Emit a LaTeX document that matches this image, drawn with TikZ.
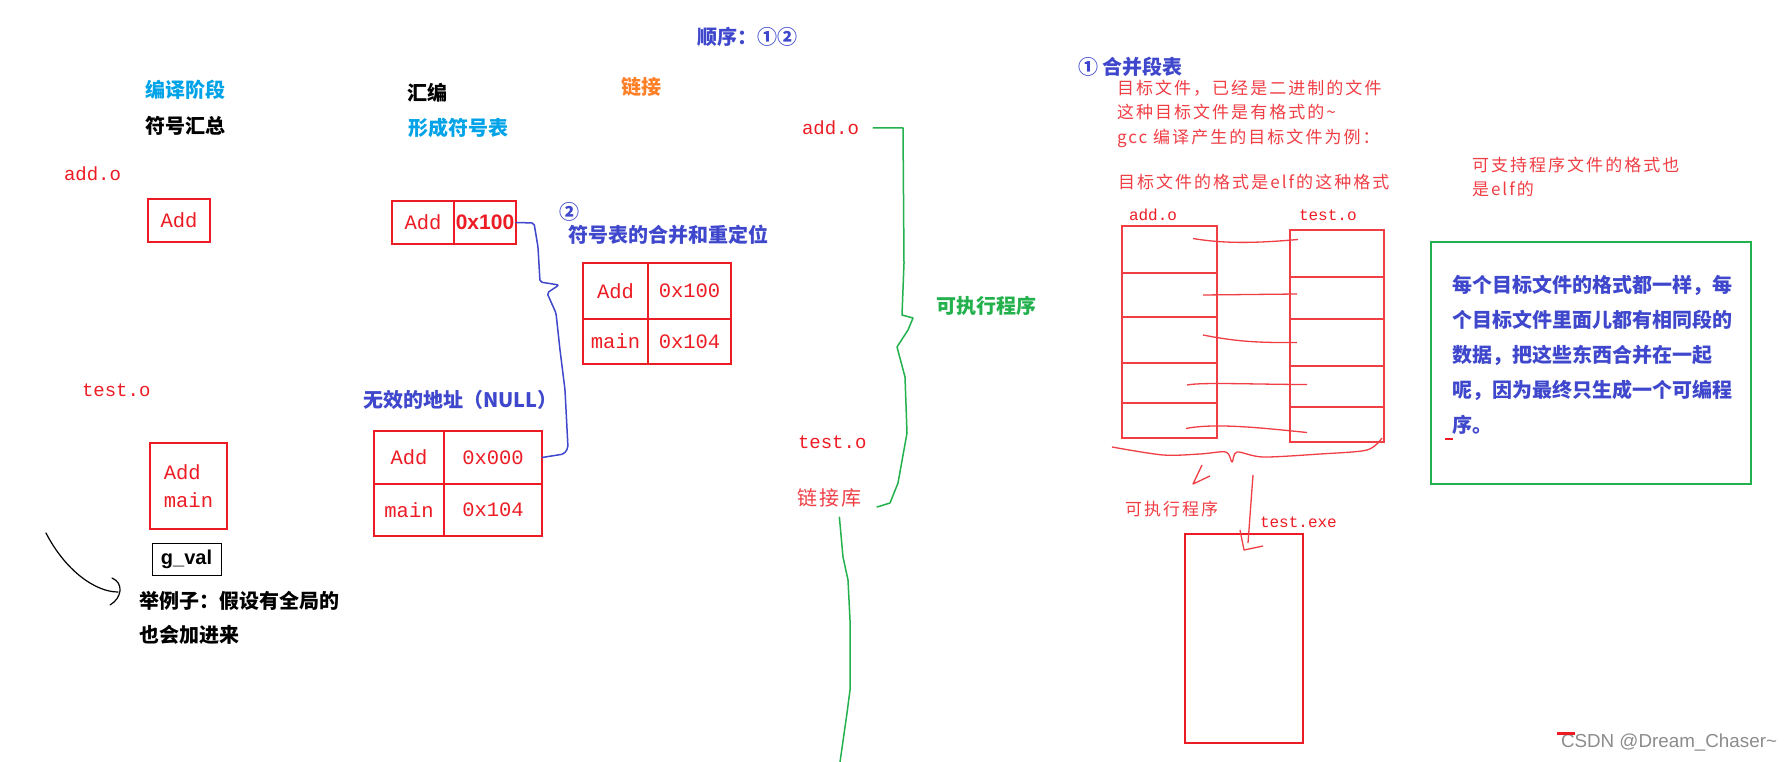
\documentclass[tikz,border=0pt]{standalone}
\usepackage{fontspec}
\setmainfont{Noto Sans CJK SC}
\newfontfamily\monofont{Liberation Mono}
\newfontfamily\arialfont{Liberation Sans}
\newfontfamily\notefont[LetterSpace=12]{Noto Sans CJK SC}
\definecolor{pred}{RGB}{237,28,36}
\definecolor{pblue}{RGB}{63,72,204}
\definecolor{pcyan}{RGB}{0,162,232}
\definecolor{pgreen}{RGB}{34,177,76}
\definecolor{porange}{RGB}{255,127,39}
\begin{document}
\begin{tikzpicture}[x=1pt,y=-1pt,every node/.style={inner sep=0pt,outer sep=0pt},
  title/.style={anchor=west,font=\fontsize{20}{24}\selectfont\bfseries},
  fname/.style={anchor=west,text=pred,font=\monofont\fontsize{19}{22}\selectfont},
  note/.style={anchor=west,align=left,text=pred!85,font=\notefont\fontsize{17}{24.5}\selectfont},
  cell/.style={anchor=north west,draw=pred,line width=2.5pt,text=pred,font=\monofont\fontsize{20.5}{28}\selectfont},
  segbox/.style={anchor=north west,draw=pred!85,line width=2pt},
  seg/.style={draw=pred!85,line width=1.3pt},
  pen/.style={line width=1.5pt,line join=round,line cap=round}]
\fill[white] (0,0) rectangle (1791,762);
\useasboundingbox (0,0) rectangle (1791,762);
% stages
\node[title,text=pblue] (order) at (697,37) {顺序：①②};
\node[title,text=pcyan] (s1) at (145,90) {编译阶段};
\node[title] (s1b) at (145,126) {符号汇总};
\node[title] (s2) at (407,93) {汇编};
\node[title,text=pcyan] (s2b) at (408,128) {形成符号表};
\node[title,text=porange] (s3) at (621,87) {链接};
% symbols per file
\node[fname] (fadd) at (64,174) {add.o};
\node[cell,minimum width=62pt,minimum height=43pt] (addsym) at (148,199) {Add};
\node[fname] (ftest) at (82,390) {test.o};
\node[cell,minimum width=77pt,minimum height=86pt,align=left] (testsym) at (150,443) {Add\\main};
\node[anchor=north west,draw,line width=1pt,minimum width=69pt,minimum height=32pt,font=\arialfont\bfseries\fontsize{20}{24}\selectfont] (gval) at (152,543) {g\_val};
\node[title] (ex1) at (139,601) {举例子：假设有全局的};
\node[title] (ex2) at (139,635) {也会加进来};
\coordinate (hand) at (46,533);
\draw[pen,line width=1.2pt] (hand) .. controls (65,570) and (95,592) .. ([xshift=-21pt,yshift=9pt]ex1.west);
\draw[pen,line width=1.2pt] (112,578) .. controls (124,583) and (122,598) .. (110,605);
% symbol tables
\node[cell,minimum width=62pt,minimum height=43pt] (ta1) at (392,201) {Add};
\node[cell,minimum width=62pt,minimum height=43pt,font=\arialfont\bfseries\fontsize{21}{24}\selectfont] (ta1v) at (454,201) {0x100};
\node[title,text=pblue] (mark2) at (559,212) {②};
\node[title,text=pblue] (merge) at (568,235) {符号表的合并和重定位};
\node[cell,minimum width=65pt,minimum height=56pt] (tb1) at (583,263) {Add};
\node[cell,minimum width=83pt,minimum height=56pt] (tb1v) at (648,263) {0x100};
\node[cell,minimum width=65pt,minimum height=45pt] (tb2) at (583,319) {main};
\node[cell,minimum width=83pt,minimum height=45pt] (tb2v) at (648,319) {0x104};
\node[title,text=pblue] (null) at (363,400) {无效的地址（NULL）};
\node[cell,minimum width=70pt,minimum height=53pt] (tc1) at (374,431) {Add};
\node[cell,minimum width=98pt,minimum height=53pt] (tc1v) at (444,431) {0x000};
\node[cell,minimum width=70pt,minimum height=52pt] (tc2) at (374,484) {main};
\node[cell,minimum width=98pt,minimum height=52pt] (tc2v) at (444,484) {0x104};
\draw[pen,pblue,rounded corners=2pt] (ta1v.east) -- (534,223) -- (538,247) -- (540,282) -- (559,285) -- (547,293) -- (556,313) -- (560,350) -- (565,390) -- (568,448) -- (564,454) -- (tc1v.east);
% linking
\node[fname] (lkadd) at (802,128) {add.o};
\node[fname] (lktest) at (798,442) {test.o};
\node[note,font=\notefont\fontsize{20}{24}\selectfont] (lib) at (797,498) {链接库};
\node[title,text=pgreen] (exe1) at (936,306) {可执行程序};
\draw[pen,pgreen] ([xshift=14pt]lkadd.east) -- (903,128) -- (904,263) -- (902,315) -- (913,318) -- (908,330) -- (897,347) -- (905,377) -- (907,433) -- (898,483) -- (890,503) -- (877,507);
\draw[pen,pgreen] ([xshift=10pt,yshift=-10pt]lib.south) -- (843,557) -- (848,580) -- (850,620) -- (850,690) -- (847,713) -- (840,762);
% merging sections
\node[title,text=pblue] (sec1) at (1078,67) {① 合并段表};
\node[note] (n1) at (1117,113.5) {目标文件，已经是二进制的文件\\这种目标文件是有格式的\textasciitilde\\gcc 编译产生的目标文件为例：};
\node[note] (n2) at (1118,182) {目标文件的格式是elf的这种格式};
\node[note] (n3) at (1472,177) {可支持程序文件的格式也\\是elf的};
\node[fname,font=\monofont\fontsize{16}{20}\selectfont] (colA) at (1129,215) {add.o};
\node[fname,font=\monofont\fontsize{16}{20}\selectfont] (colB) at (1299,215) {test.o};
\node[segbox,minimum width=95pt,minimum height=47pt] (a1) at (1122,226) {};
\node[segbox,minimum width=95pt,minimum height=44pt] (a2) at (1122,273) {};
\node[segbox,minimum width=95pt,minimum height=46pt] (a3) at (1122,317) {};
\node[segbox,minimum width=95pt,minimum height=40pt] (a4) at (1122,363) {};
\node[segbox,minimum width=95pt,minimum height=35pt] (a5) at (1122,403) {};
\node[segbox,minimum width=94pt,minimum height=47pt] (t1) at (1290,230) {};
\node[segbox,minimum width=94pt,minimum height=42pt] (t2) at (1290,277) {};
\node[segbox,minimum width=94pt,minimum height=47pt] (t3) at (1290,319) {};
\node[segbox,minimum width=94pt,minimum height=41pt] (t4) at (1290,366) {};
\node[segbox,minimum width=94pt,minimum height=35pt] (t5) at (1290,407) {};
\draw[seg] ([xshift=-24pt,yshift=11pt]a1.east) .. controls +(35,6) and +(-35,3) .. ([xshift=8pt,yshift=14pt]t1.west);
\draw[seg] ([xshift=-14pt]a2.east) -- ([xshift=7pt,yshift=4pt]t2.west);
\draw[seg] ([xshift=-14pt,yshift=5pt]a3.east) .. controls +(40,8) and +(-30,0) .. ([xshift=7pt]t3.west);
\draw[seg] ([xshift=-30pt,yshift=-2pt]a4.east) .. controls +(15,-3) and +(-50,0) .. ([xshift=17pt,yshift=2pt]t4.west);
\draw[seg] ([xshift=-31pt,yshift=-8pt]a5.east) .. controls +(30,-6) and +(-40,-4) .. ([xshift=17pt,yshift=-8pt]t5.west);
\draw[seg,line join=round] plot[smooth,tension=0.5] coordinates {(1112,447) (1163,455) (1200,454) (1226,452) (1232,462) (1237,452) (1263,457) (1320,454) (1367,450) (1382,438)};
\node[note] (exe2) at (1125,509) {可执行程序};
\node[fname,font=\monofont\fontsize{16}{20}\selectfont] (exename) at (1260,522) {test.exe};
\node[anchor=north west,draw=pred,line width=2pt,minimum width=118pt,minimum height=209pt] (exe) at (1185,534) {};
\draw[seg,line join=round] (1202,465) -- (1193,484) -- (1210,476);
\draw[seg] (1253,475) -- ([xshift=4pt,yshift=-9pt]exe.north);
\draw[seg,line join=round] (1240,530) -- (1244,550) -- (1263,546);
% summary
\node[anchor=north west,draw=pgreen,line width=2.5pt,minimum width=320pt,minimum height=242pt] (sumbox) at (1431,242) {};
\node[title,text=pblue,align=left,font=\fontsize{20}{35}\selectfont\bfseries] (sumtxt) at (1452,355) {每个目标文件的格式都一样，每\\个目标文件里面儿都有相同段的\\数据，把这些东西合并在一起\\呢，因为最终只生成一个可编程\\序。};
\draw[pred,line width=2.5pt] (1445,439) -- (1453,439);
\node[anchor=west,text=black!45,font=\arialfont\fontsize{18.8}{22}\selectfont] (wm) at (1561,743) {CSDN @Dream\_Chaser\textasciitilde};
\draw[pred,line width=3pt] (1557,733) -- (1575,733);
\end{tikzpicture}
\end{document}
